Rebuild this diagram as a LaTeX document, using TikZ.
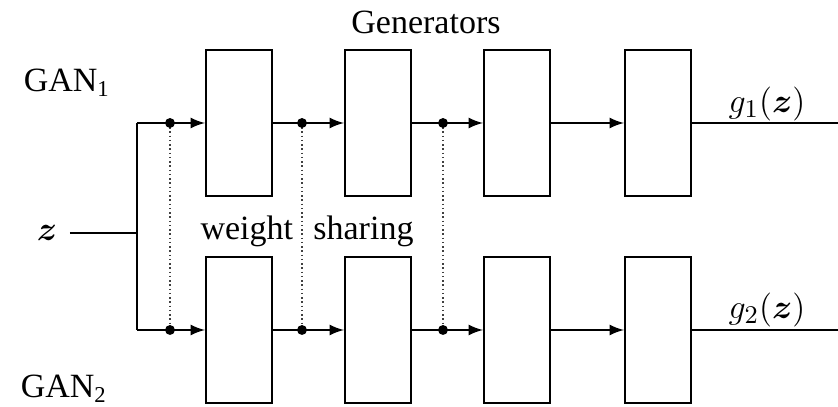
\documentclass[tikz,border=0pt]{standalone}
\usepackage{amsmath,amssymb}
\usepackage{bm}
\usepackage{fontspec}
\setmainfont{Liberation Serif}
\usepackage{tikz}
\usetikzlibrary{arrows,positioning,calc}
\tikzset{
    layer/.style={draw, line width=0.7pt, inner sep=0pt,
        minimum width=23.3pt, minimum height=51.2pt},
    wire/.style={line width=0.75pt},
    share/.style={densely dotted, line width=0.5pt, black!75},
    tag/.style={font=\fontsize{12}{14}\selectfont, inner sep=0pt},
    outtag/.style={font=\fontsize{13.2}{15}\selectfont, inner sep=0pt}
}

\begin{document}
\begin{tikzpicture}[x=0.353pt, y=-0.353pt, >=latex]
    \useasboundingbox (0,0) rectangle (838,407);

    % Two rows of generator layers
    \foreach \i/\x in {1/239, 2/378, 3/517, 4/658} {
        \node[layer] (top\i) at (\x,123) {};
        \node[layer] (bot\i) at (\x,330) {};
    }

    % Input z and the split into both generators
    \node[tag] (z) at (47,233) {$\bm{z}$};
    \coordinate (zin) at (70,233);
    \coordinate (split) at (137,233);
    \coordinate (splittop) at (137,123);
    \coordinate (splitbot) at (137,330);
    \draw[wire] (zin) -- (split);
    \draw[wire] (splittop) -- (splitbot);
    \draw[wire,->] (splittop) -- (top1.west);
    \draw[wire,->] (splitbot) -- (bot1.west);

    % Layer to layer
    \foreach \i/\j in {1/2, 2/3, 3/4} {
        \draw[wire,->] (top\i.east) -- (top\j.west);
        \draw[wire,->] (bot\i.east) -- (bot\j.west);
    }

    % Outputs
    \coordinate (out1) at (838,123);
    \coordinate (out2) at (838,330);
    \draw[wire] (top4.east) -- (out1);
    \draw[wire] (bot4.east) -- (out2);

    % Tied weights between the first layers
    \foreach \n/\x in {1/170, 2/302, 3/443} {
        \coordinate (st\n) at (\x,123);
        \coordinate (sb\n) at (\x,330);
        \draw[share] (st\n) -- (sb\n);
        \fill (st\n) circle (1.75pt);
        \fill (sb\n) circle (1.75pt);
    }

    % Labels
    \node[tag] (gan1) at (67,83) {GAN$_{\text{1}}$};
    \node[tag] (gan2) at (64,389) {GAN$_{\text{2}}$};
    \node[tag] (gens) at (426,22) {Generators};
    \node[tag] (ws) at (307,231) {weight\hspace{0.6em}sharing};
    \node[outtag] (g1) at (767,104) {$g_1(\bm{z})$};
    \node[outtag] (g2) at (767,310) {$g_2(\bm{z})$};

\end{tikzpicture}
\end{document}
